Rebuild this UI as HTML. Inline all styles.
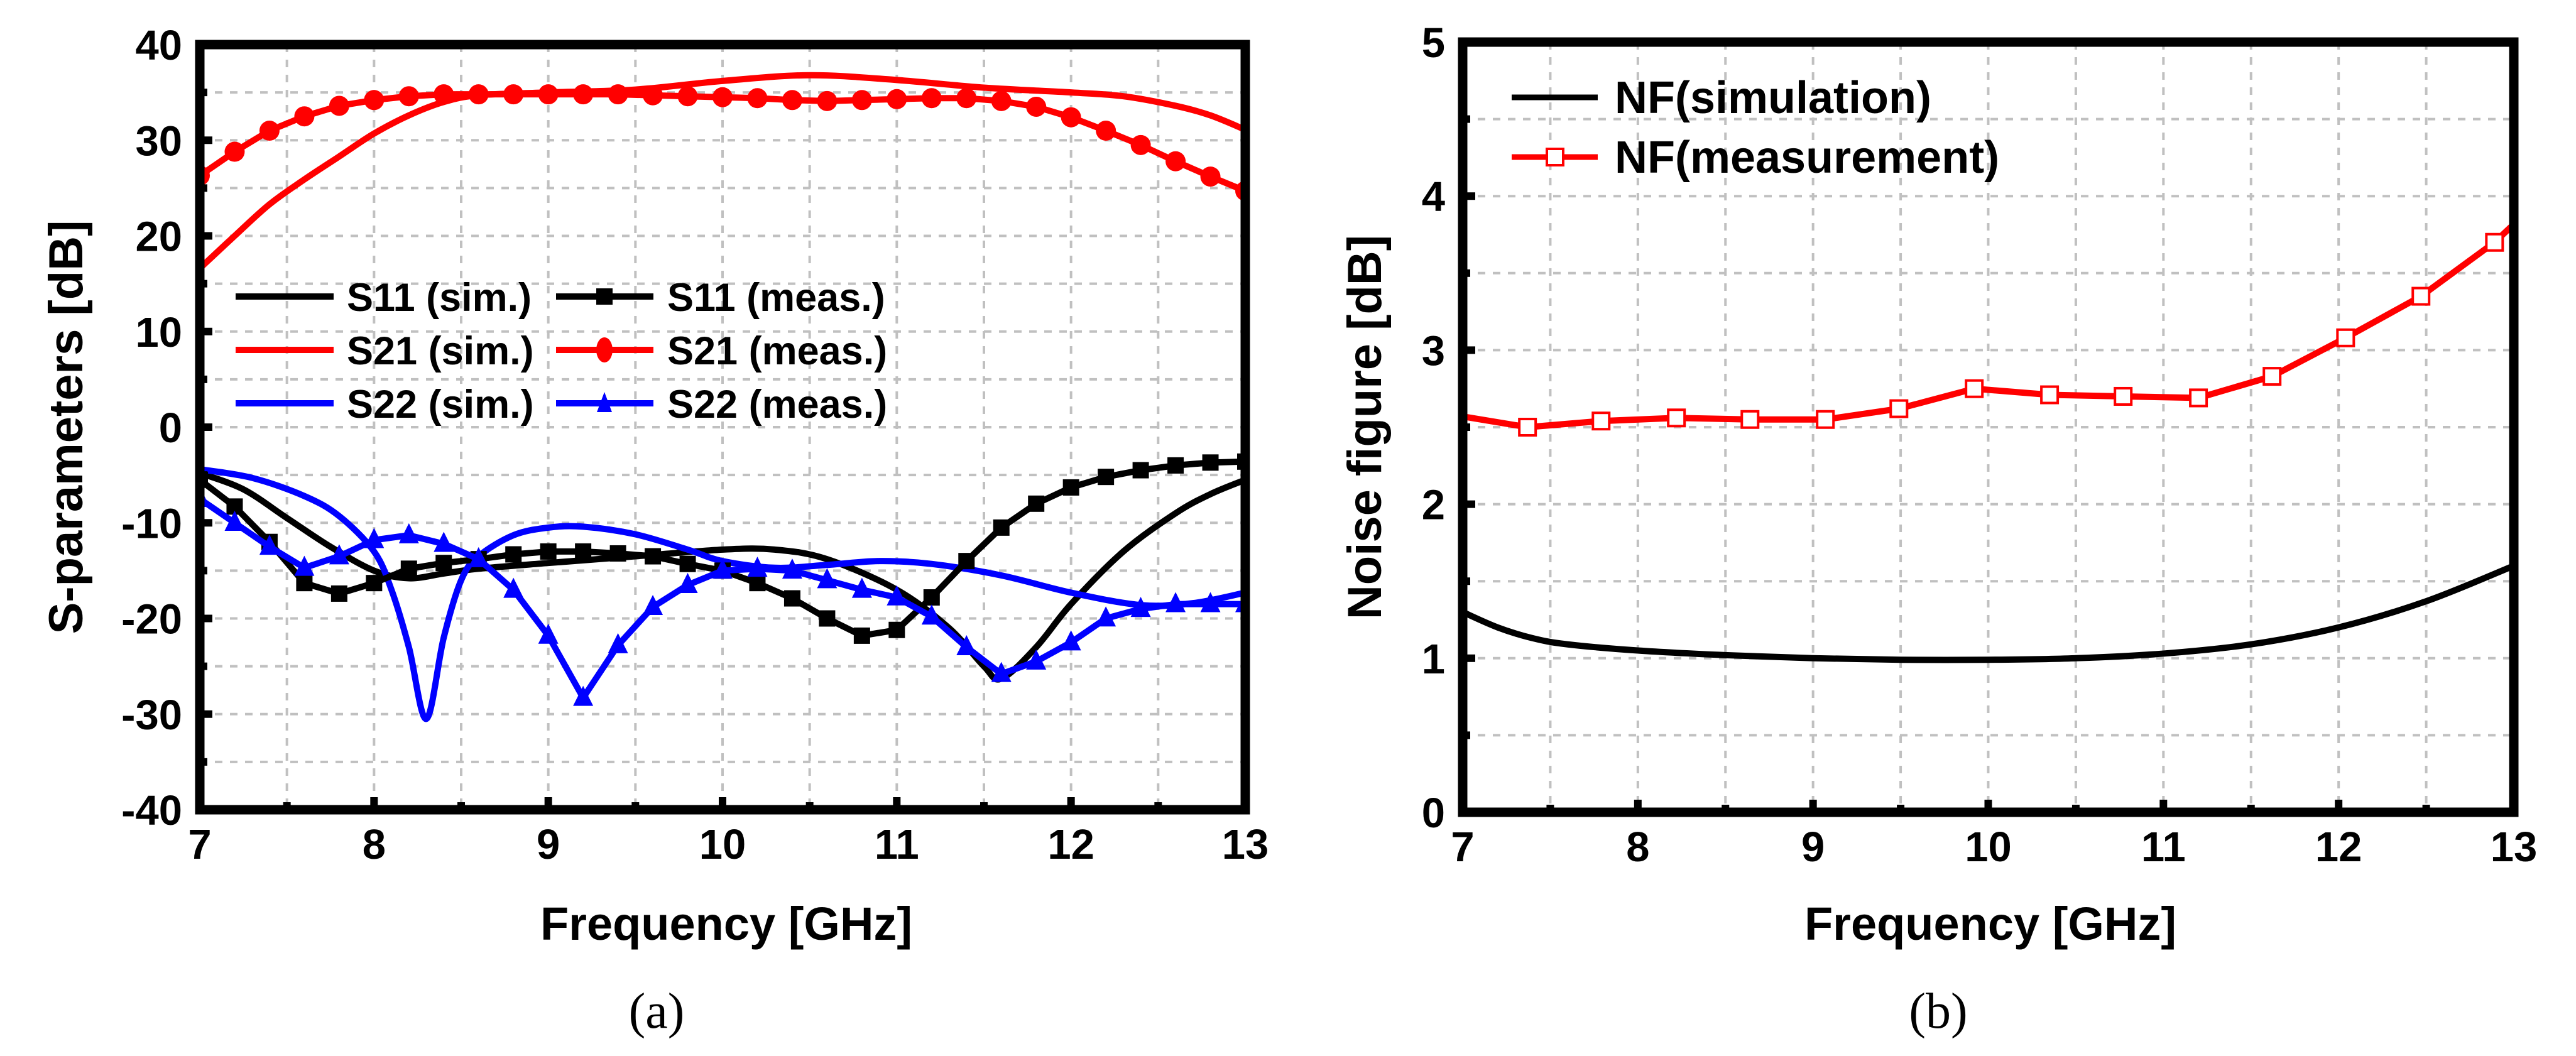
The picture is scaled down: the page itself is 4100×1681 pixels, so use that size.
<!DOCTYPE html>
<html><head><meta charset="utf-8"><style>
html,body{margin:0;padding:0;background:#fff;}
svg{display:block;font-family:"Liberation Sans",Arial,sans-serif;}
</style></head><body>
<svg id="fig" width="4100" height="1681" viewBox="0 0 4100 1681" xmlns="http://www.w3.org/2000/svg">
<defs>
<clipPath id="clipA"><rect x="318" y="71" width="1664" height="1218"/></clipPath>
<clipPath id="clipB"><rect x="2328" y="67" width="1673" height="1226"/></clipPath>
</defs>
</svg>
<script>
// ---------- Chart (a) data ----------
const freqA02 = [7,7.2,7.4,7.6,7.8,8,8.2,8.4,8.6,8.8,9,9.2,9.4,9.6,9.8,10,10.2,10.4,10.6,10.8,11,11.2,11.4,11.6,11.8,12,12.2,12.4,12.6,12.8,13];
const s21Meas = [26.3,28.8,31,32.5,33.6,34.2,34.6,34.8,34.8,34.8,34.8,34.8,34.8,34.7,34.6,34.5,34.4,34.2,34.1,34.2,34.3,34.4,34.4,34.1,33.5,32.4,31,29.5,27.8,26.2,24.7];
const s11Meas = [-5.5,-8.3,-12,-16.3,-17.4,-16.3,-14.8,-14.2,-13.8,-13.3,-13,-13,-13.2,-13.5,-14.3,-15,-16.3,-17.9,-20,-21.8,-21.2,-17.8,-14,-10.5,-8,-6.3,-5.2,-4.5,-4,-3.7,-3.6];
const s22Meas = [-7.5,-10,-12.5,-14.7,-13.5,-11.8,-11.3,-12.2,-13.8,-17,-21.8,-28.3,-22.8,-18.8,-16.5,-15,-14.8,-15,-16,-17,-17.8,-19.8,-23,-25.8,-24.5,-22.5,-20,-19,-18.5,-18.5,-18.5];
const s21SimF = [7,7.2,7.4,7.6,7.8,8,8.2,8.4,8.6,9,9.5,10,10.5,11,11.5,12,12.3,12.6,12.8,13];
const s21Sim = [16.6,20,23.3,25.9,28.3,30.7,32.6,34,34.7,35,35.3,36.2,36.8,36.3,35.5,35,34.6,33.6,32.6,31.1];
const s11SimF = [7,7.25,7.5,7.75,8,8.2,8.4,8.6,9,9.5,10,10.3,10.6,11,11.3,11.5,11.6,11.8,12,12.3,12.6,12.8,13];
const s11Sim = [-4.8,-6.5,-9.5,-12.5,-15,-15.8,-15.3,-14.8,-14.2,-13.5,-12.8,-12.8,-13.8,-17,-21,-25,-26.3,-23,-18.5,-13,-9,-7,-5.5];
const s22SimF = [7,7.3,7.6,7.8,8,8.1,8.2,8.3,8.4,8.5,8.6,8.8,9,9.2,9.5,9.8,10,10.3,10.6,10.9,11.2,11.6,12,12.4,12.7,13];
const s22Sim = [-4.4,-5.3,-7.2,-9.3,-13,-17,-23,-30.5,-22,-16,-13.5,-11.3,-10.5,-10.4,-11.2,-12.8,-14,-14.7,-14.4,-14,-14.3,-15.5,-17.3,-18.6,-18.4,-17.3];
const yTicksA = [-40,-30,-20,-10,0,10,20,30,40];
const xTicks = [7,8,9,10,11,12,13];
// ---------- Chart (b) data ----------
const nfMeasF = [6.945,7.37,7.79,8.22,8.64,9.07,9.49,9.92,10.35,10.77,11.2,11.62,12.04,12.47,12.89,13.31];
const nfMeas = [2.58,2.50,2.54,2.56,2.55,2.55,2.62,2.75,2.71,2.70,2.69,2.83,3.08,3.35,3.70,4.15];
const nfSimF = [7,7.2,7.4,7.6,8,8.5,9,9.5,10,10.5,11,11.5,12,12.5,13];
const nfSim = [1.3,1.2,1.13,1.09,1.05,1.02,1.0,0.99,0.99,1.0,1.03,1.09,1.2,1.37,1.6];
const yTicksB = [0,1,2,3,4,5];

const NS="http://www.w3.org/2000/svg";
const svg=document.getElementById('fig');
function mk(tag,attrs,parent){const e=document.createElementNS(NS,tag);for(const k in attrs)e.setAttribute(k,attrs[k]);(parent||svg).appendChild(e);return e;}

const A={x0:318,x1:1982,y0:1289,y1:71,xmin:7,xmax:13,ymin:-40,ymax:40};
const B={x0:2328,x1:4001,y0:1293,y1:67,xmin:7,xmax:13,ymin:0,ymax:5};
function sx(c,v){return c.x0+(v-c.xmin)/(c.xmax-c.xmin)*(c.x1-c.x0);}
function sy(c,v){return c.y0-(v-c.ymin)/(c.ymax-c.ymin)*(c.y0-c.y1);}

function smoothPath(pts){
  let d=`M${pts[0][0]},${pts[0][1]}`;
  for(let i=0;i<pts.length-1;i++){
    const p0=pts[Math.max(i-1,0)],p1=pts[i],p2=pts[i+1],p3=pts[Math.min(i+2,pts.length-1)];
    const c1x=p1[0]+(p2[0]-p0[0])/6,c1y=p1[1]+(p2[1]-p0[1])/6;
    const c2x=p2[0]-(p3[0]-p1[0])/6,c2y=p2[1]-(p3[1]-p1[1])/6;
    d+=` C${c1x},${c1y} ${c2x},${c2y} ${p2[0]},${p2[1]}`;
  }
  return d;
}

function frame(c,name,gx,gy){
  const g=mk('g',{});
  
  
  gx.forEach(v=>{const x=sx(c,v);const l=mk('line',{x1:x,x2:x,y1:c.y1,y2:c.y0,stroke:'#c0c0c0','stroke-width':4,'stroke-dasharray':'12 12'},g);});
  gy.forEach(v=>{const y=sy(c,v);const l=mk('line',{x1:c.x0,x2:c.x1,y1:y,y2:y,stroke:'#c0c0c0','stroke-width':4,'stroke-dasharray':'12 12'},g);});
}
function axes(c,name,yTicks,minorY,fmt){
  const g=mk('g',{});
  
  
  const fr=mk('rect',{x:c.x0,y:c.y1,width:c.x1-c.x0,height:c.y0-c.y1,fill:'none',stroke:'#000','stroke-width':15},g);
  
  xTicks.forEach(v=>{const x=sx(c,v);
    mk('rect',{x:x-6,y:c.y0-20,width:12,height:20,fill:'#000'},g);
    const t=mk('text',{x:x,y:c.y0+78,'font-size':67,'font-weight':'bold','text-anchor':'middle'},g);t.textContent=v;
    });
  for(let v=7.5;v<13;v+=1){const x=sx(c,v);mk('rect',{x:x-6,y:c.y0-12,width:12,height:12,fill:'#000'},g);}
  yTicks.forEach(v=>{const y=sy(c,v);
    mk('rect',{x:c.x0,y:y-6,width:20,height:12,fill:'#000'},g);
    const t=mk('text',{x:c.x0-28,y:y+24,'font-size':67,'font-weight':'bold','text-anchor':'end'},g);t.textContent=fmt(v);
    });
  minorY.forEach(v=>{const y=sy(c,v);mk('rect',{x:c.x0,y:y-6,width:12,height:12,fill:'#000'},g);});
}
function line(c,clip,xs,ys,color,name,smooth){
  const pts=xs.map((x,i)=>[sx(c,x),sy(c,ys[i])]);
  const p=mk('path',{d:smooth?smoothPath(pts):'M'+pts.map(q=>q.join(',')).join(' L'),fill:'none',stroke:color,'stroke-width':10,'stroke-linejoin':'round','clip-path':`url(#${clip})`});
  
  
}
function markers(c,clip,xs,ys,color,shape,name,size){
  const g=mk('g',{'clip-path':`url(#${clip})`});
  
  
  xs.forEach((xv,i)=>{const x=sx(c,xv),y=sy(c,ys[i]);let m;
    if(shape==='circle')m=mk('circle',{cx:x,cy:y,r:size,fill:color},g);
    else if(shape==='square')m=mk('rect',{x:x-size,y:y-size,width:2*size,height:2*size,fill:color},g);
    else if(shape==='tri')m=mk('polygon',{points:`${x},${y-size*1.2} ${x-size},${y+size*0.8} ${x+size},${y+size*0.8}`,fill:color},g);
    else m=mk('rect',{x:x-size,y:y-size,width:2*size,height:2*size,fill:'#fff',stroke:color,'stroke-width':4},g);
    
    
  });
}

// ----- Chart A -----
frame(A,'chart-a',[7.5,8,8.5,9,9.5,10,10.5,11,11.5,12,12.5],[-35,-30,-25,-20,-15,-10,-5,0,5,10,15,20,25,30,35]);
line(A,'clipA',s21SimF,s21Sim,'#ff0000','s21-sim-line',true);
line(A,'clipA',s11SimF,s11Sim,'#000000','s11-sim-line',true);
line(A,'clipA',s22SimF,s22Sim,'#0000ff','s22-sim-line',true);
line(A,'clipA',freqA02,s21Meas,'#ff0000','s21-meas-line',false);
markers(A,'clipA',freqA02,s21Meas,'#ff0000','circle','s21-meas',16);
line(A,'clipA',freqA02,s11Meas,'#000000','s11-meas-line',false);
markers(A,'clipA',freqA02,s11Meas,'#000000','square','s11-meas',13);
line(A,'clipA',freqA02,s22Meas,'#0000ff','s22-meas-line',false);
markers(A,'clipA',freqA02,s22Meas,'#0000ff','tri','s22-meas',16);
axes(A,'chart-a',yTicksA,[-35,-25,-15,-5,5,15,25,35],v=>String(v));

// ----- Chart B -----
frame(B,'chart-b',[7.5,8,8.5,9,9.5,10,10.5,11,11.5,12,12.5],[0.5,1,1.5,2,2.5,3,3.5,4,4.5]);
line(B,'clipB',nfSimF,nfSim,'#000000','nf-sim-line',true);
line(B,'clipB',nfMeasF,nfMeas,'#ff0000','nf-meas-line',false);
markers(B,'clipB',nfMeasF,nfMeas,'#ff0000','hollow','nf-meas',13);
axes(B,'chart-b',yTicksB,[0.5,1.5,2.5,3.5,4.5],v=>String(v));
</script>
<script>
(function(){
const NS="http://www.w3.org/2000/svg";
const svg=document.getElementById('fig');
function mk(tag,attrs,parent){const e=document.createElementNS(NS,tag);for(const k in attrs)e.setAttribute(k,attrs[k]);(parent||svg).appendChild(e);return e;}
function txt(x,y,s,size,extra,name){const t=mk('text',Object.assign({x:x,y:y,'font-size':size,'font-weight':'bold'},extra||{}));t.textContent=s;


return t;}
// legend A
const leg=[['S11 (sim.)','#000',null,'S11 (meas.)','square'],['S21 (sim.)','#ff0000',null,'S21 (meas.)','circle'],['S22 (sim.)','#0000ff',null,'S22 (meas.)','tri']];
const rowsY=[472,557,642];
leg.forEach((r,i)=>{const y=rowsY[i];
  const l1=mk('line',{x1:375,x2:531,y1:y,y2:y,stroke:r[1],'stroke-width':10});
  
  
  txt(552,y+23,r[0],63,{},'legend-entry-sim');
  const l2=mk('line',{x1:885,x2:1040,y1:y,y2:y,stroke:r[1],'stroke-width':10});
  
  
  const cx=962;
  if(r[4]==='square')mk('rect',{x:cx-13,y:y-13,width:26,height:26,fill:r[1]});
  else if(r[4]==='circle')mk('ellipse',{cx:cx,cy:y,rx:13,ry:20,fill:r[1]});
  else mk('polygon',{points:`${cx},${y-18} ${cx-12},${y+14} ${cx+12},${y+14}`,fill:r[1]});
  txt(1062,y+23,r[3],63,{},'legend-entry-meas');
});
// legend B
const lb1=mk('line',{x1:2406,x2:2543,y1:155,y2:155,stroke:'#000','stroke-width':9});


txt(2570,180,'NF(simulation)',72,{},'legend-entry-nf-sim');
const lb2=mk('line',{x1:2406,x2:2543,y1:250,y2:250,stroke:'#ff0000','stroke-width':9});


mk('rect',{x:2462,y:237,width:26,height:26,fill:'#fff',stroke:'#ff0000','stroke-width':4});
txt(2570,275,'NF(measurement)',72,{},'legend-entry-nf-meas');
// axis titles
txt(1156,1496,'Frequency [GHz]',74,{'text-anchor':'middle'},'x-axis-title-a');
txt(3168,1496,'Frequency [GHz]',74,{'text-anchor':'middle'},'x-axis-title-b');
txt(0,0,'S-parameters [dB]',76,{'text-anchor':'middle',transform:'translate(131,680) rotate(-90)'},'y-axis-title-a');
txt(0,0,'Noise figure [dB]',76,{'text-anchor':'middle',transform:'translate(2198,680) rotate(-90)'},'y-axis-title-b');
txt(1045,1636,'(a)',80,{'text-anchor':'middle','font-weight':'normal','font-family':'"Liberation Serif",serif'},'caption-a');
txt(3085,1636,'(b)',80,{'text-anchor':'middle','font-weight':'normal','font-family':'"Liberation Serif",serif'},'caption-b');
})();
</script>
</body></html>
